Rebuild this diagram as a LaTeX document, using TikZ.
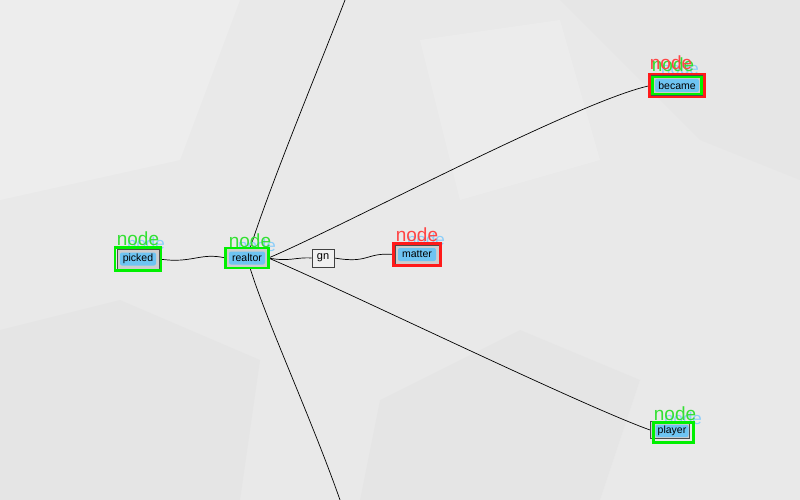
\documentclass[tikz,border=0pt]{standalone}
\usepackage{fontspec}
\newfontfamily\lbfont{Liberation Sans}
\pgfdeclarelayer{paper}
\pgfdeclarelayer{edges}
\pgfsetlayers{paper,edges,main}
\definecolor{paperbg}{HTML}{E9E9E9}
\definecolor{paperdark}{HTML}{DEDEDE}
\definecolor{skyb}{HTML}{6EC4F2}
\definecolor{boxgray}{HTML}{CDCDCD}
\definecolor{fgreen}{HTML}{00F000}
\definecolor{fred}{HTML}{FF1A1A}
\definecolor{tgreen}{HTML}{33E033}
\definecolor{tred}{HTML}{FF4545}
\definecolor{tblue}{HTML}{8CCEFA}
\tikzset{
  innerbox/.style={draw=black!70, fill=boxgray, line width=0.8pt, inner sep=0pt},
  lbl/.style={fill=skyb, rounded corners=2pt, font=\lbfont\fontsize{10.5}{11}\selectfont, inner sep=1.2pt, text=black, minimum height=13pt},
  gframe/.style={draw=fgreen, line width=2.6pt, inner sep=0pt},
  rframe/.style={draw=fred, line width=2.6pt, inner sep=0pt},
  tagg/.style={text=tgreen, font=\lbfont\fontsize{19}{20}\selectfont, anchor=base, inner sep=0pt},
  tagr/.style={text=tred, font=\lbfont\fontsize{19}{20}\selectfont, anchor=base, inner sep=0pt},
  tagb/.style={text=tblue, font=\lbfont\fontsize{17}{18}\selectfont, anchor=base, inner sep=0pt},
  plainbox/.style={draw=black!75, fill=white!94!black, line width=0.8pt, font=\lbfont\fontsize{11}{12}\selectfont, minimum width=22pt, minimum height=18pt, inner sep=0pt},
  link/.style={draw=black, line width=0.7pt}
}
\begin{document}
\begin{tikzpicture}[x=1pt,y=-1pt]
\useasboundingbox (0,0) rectangle (800,500);
\begin{pgfonlayer}{paper}
  \fill[paperbg] (0,0) rectangle (800,500);
  \fill[paperdark,opacity=0.35] (0,330) -- (120,300) -- (260,360) -- (240,500) -- (0,500) -- cycle;
  \fill[paperdark,opacity=0.3] (380,400) -- (520,330) -- (640,380) -- (600,500) -- (360,500) -- cycle;
  \fill[paperdark,opacity=0.25] (560,0) -- (800,0) -- (800,180) -- (700,140) -- cycle;
  \fill[white,opacity=0.2] (0,0) -- (240,0) -- (180,160) -- (0,200) -- cycle;
  \fill[white,opacity=0.15] (420,40) -- (560,20) -- (600,160) -- (460,200) -- cycle;
\end{pgfonlayer}

% picked
\node[tagb] at (146,249) {node};
\node[innerbox, minimum width=42pt, minimum height=20pt] (picked) at (138,259) {};
\node[lbl, minimum width=36pt] at (picked) {picked};
\node[gframe, minimum width=46pt, minimum height=23pt] at (picked) {};
\node[tagg] at (138,245) {node};

% realtor
\node[tagb] at (257,251) {node};
\node[innerbox, minimum width=42pt, minimum height=19pt] (realtor) at (247,258) {};
\node[lbl, minimum width=36pt] at (realtor) {realtor};
\node[gframe, minimum width=43pt, minimum height=20pt] at (realtor) {};
\node[tagg] at (250,247) {node};

% gn
\node[plainbox] (gn) at (323,258) {gn};

% matter
\node[tagb] at (426,245) {node};
\node[innerbox, minimum width=44pt, minimum height=19pt] (matter) at (417,254.5) {};
\node[lbl, minimum width=38pt] at (matter) {matter};
\node[rframe, minimum width=47pt, minimum height=22pt] at (matter) {};
\node[tagr] at (417,241) {node};

% became
\node[tagb] at (680,75) {node};
\node[innerbox, minimum width=52pt, minimum height=20pt] (became) at (677,85.5) {};
\node[lbl, minimum width=44pt] at (became) {became};
\node[gframe, minimum width=49pt, minimum height=17pt] at (became) {};
\node[rframe, minimum width=55pt, minimum height=23pt] at (became) {};
\node[tagg] at (673,72) {node};
\node[tagr] at (671,70) {node};

% player
\node[tagb] at (683,424) {node};
\node[innerbox, minimum width=39pt, minimum height=17pt] (player) at (670,430) {};
\node[lbl, minimum width=33pt, minimum height=10pt] at (672,431) {player};
\node[gframe, minimum width=40pt, minimum height=20pt] at (673.5,432.5) {};
\node[tagg] at (675,420) {node};

\coordinate (topend) at (345,0);
\coordinate (botend) at (340,500);

\begin{pgfonlayer}{edges}
  \draw[link] (picked.east) .. controls (192,264) and (200,252) .. (realtor.west);
  \draw[link] (realtor) .. controls (272,180) and (318,70) .. (topend);
  \draw[link] (realtor) .. controls (266,320) and (312,420) .. (botend);
  \draw[link] (realtor.east) .. controls (290,262) and (295,257) .. (gn.west);
  \draw[link] (gn.east) .. controls (370,264) and (365,252) .. (matter.west);
  \draw[link] (realtor.east) .. controls (340,228) and (580,100) .. (became.west);
  \draw[link] (realtor.east) .. controls (340,288) and (580,405) .. (player.west);
\end{pgfonlayer}
\end{tikzpicture}
\end{document}
